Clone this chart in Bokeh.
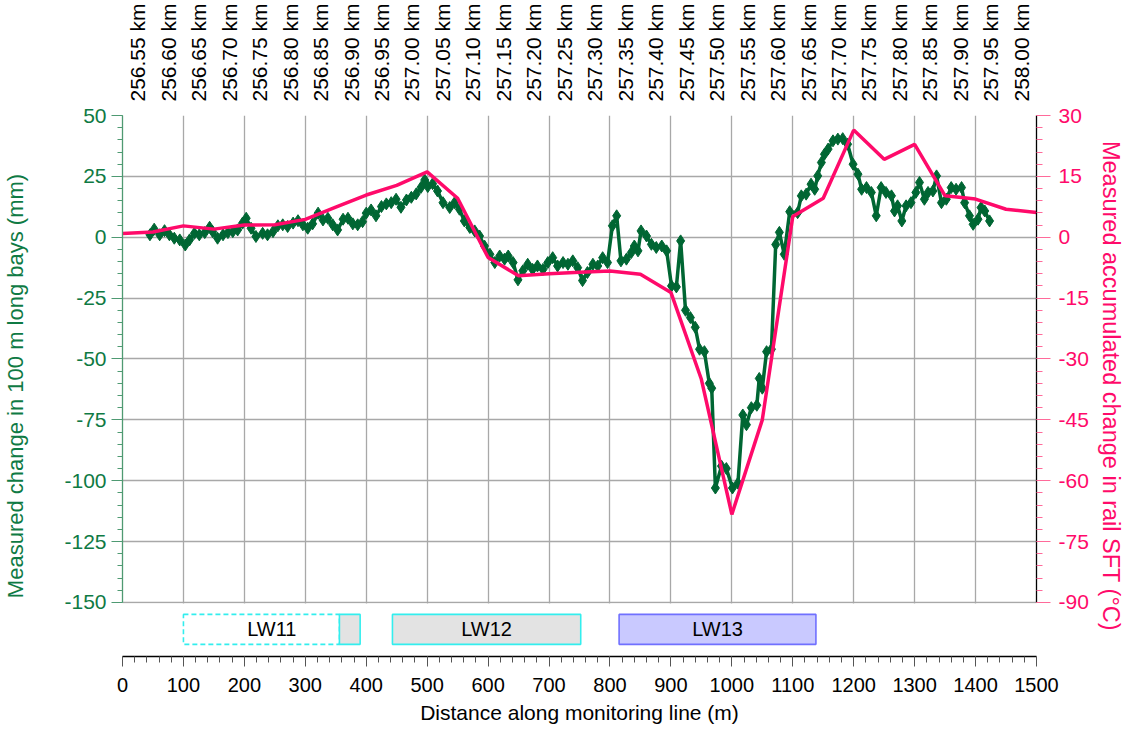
from bokeh.plotting import figure
from bokeh.models import Range1d, LinearAxis, SingleIntervalTicker, FixedTicker, NumeralTickFormatter
from bokeh.embed import file_html
from bokeh.resources import INLINE
from bokeh.core.properties import value

FONT = "Liberation Sans"
GREEN = "#006633"
GREEN_TXT = "#0f7a44"
GREEN_AX = "#4f9a72"
PINK = "#ff0a6a"
PINK_TICK = "#ff6a9a"
GRID = "#a8a8a8"

# ---------------- data ----------------
dist_bay = [45, 52, 61, 69, 77, 85, 94, 103, 110, 118, 126, 135, 143, 148, 156, 165, 173, 181, 189, 197,
            203, 211, 219, 230, 238, 247, 255, 263, 271, 280, 288, 296, 304, 312, 321, 329, 337, 345, 353, 362,
            370, 378, 386, 394, 400, 408, 416, 425, 433, 441, 449, 457, 466, 474, 482, 490, 496, 501, 509, 517,
            526, 537, 545, 553, 561, 570, 578, 586, 594, 603, 611, 619, 627, 633, 641, 649, 657, 665, 673, 681,
            690, 698, 706, 714, 723, 731, 739, 747, 755, 763, 772, 780, 788, 796, 804, 811, 818, 827, 835, 840,
            846, 851, 860, 868, 876, 885, 893, 901, 909, 916, 924, 932, 940, 947, 955, 963, 967, 973, 983, 991,
            1001, 1010, 1018, 1024, 1032, 1041, 1045, 1050, 1057, 1065, 1072, 1078, 1086, 1095, 1108, 1114, 1122, 1130, 1136, 1141,
            1147, 1152, 1158, 1166, 1174, 1182, 1190, 1199, 1207, 1213, 1221, 1229, 1237, 1245, 1253, 1262, 1267, 1272, 1279, 1286,
            1294, 1302, 1308, 1316, 1322, 1330, 1336, 1344, 1352, 1360, 1368, 1377, 1382, 1390, 1396, 1404, 1409, 1415, 1423]
bay_change = [1.0, 3.3, 1.0, 2.7, 1.0, -0.4, -1.1, -3.2, -1.1, 1.6, 1.0, 1.9, 4.1, 2.3, -0.4, 1.0, 1.9, 2.3, 3.0, 5.8,
              7.8, 3.7, 0.3, 1.6, 1.0, 2.3, 4.7, 5.1, 4.4, 5.8, 6.8, 5.1, 3.7, 5.5, 9.9, 7.1, 7.8, 5.1, 3.0, 7.4,
              7.8, 5.5, 5.1, 6.4, 9.9, 11.2, 8.8, 12.6, 13.7, 14.2, 15.6, 12.3, 15.3, 16.4, 17.8, 20.5, 23.5, 20.8, 22.0, 19.0,
              14.2, 12.2, 14.2, 11.5, 6.7, 4.0, 2.6, 0.5, -3.6, -7.0, -10.4, -7.7, -9.0, -7.7, -10.4, -17.5, -13.8, -11.1, -13.2, -11.8,
              -13.2, -10.4, -8.4, -11.8, -10.4, -11.1, -9.7, -12.5, -17.8, -14.5, -11.1, -11.8, -8.4, -10.4, 4.7, 8.8, -9.7, -9.0, -6.3, -3.6,
              -5.6, 2.6, 0.5, -2.9, -4.2, -3.6, -5.6, -20.0, -20.4, -1.5, -30.0, -33.0, -37.0, -46.0, -47.0, -60.0, -62.0, -103.0, -94.0, -95.0,
              -103.0, -101.0, -73.0, -77.0, -70.0, -69.0, -58.0, -62.0, -47.0, -46.0, -3.0, 2.0, -7.0, 10.5, 10.1, 17.0, 17.7, 21.8, 19.7, 25.2,
              30.7, 34.1, 36.2, 39.6, 40.3, 40.5, 38.2, 30.0, 25.9, 19.7, 20.4, 18.4, 8.8, 20.4, 18.4, 17.0, 10.8, 12.9, 6.7, 12.9,
              14.2, 18.4, 22.5, 15.6, 18.4, 19.0, 25.2, 14.2, 15.6, 20.4, 19.7, 20.4, 14.2, 8.8, 5.3, 7.4, 12.2, 10.8, 6.7]

dist_sft = [0, 50, 100, 150, 200, 250, 300, 350, 400, 450, 500, 550, 600, 650, 700, 750, 800, 850, 900, 950,
            1000, 1050, 1100, 1150, 1200, 1250, 1300, 1350, 1400, 1450, 1500]
sft_change = [0.9, 1.3, 2.8, 2.0, 3.0, 3.1, 4.4, 7.4, 10.4, 12.8, 16.1, 9.6, -5.0, -9.5, -9.0, -8.6, -8.3, -9.1, -13.6, -35.0,
              -68.3, -45.0, 5.1, 9.6, 26.4, 19.2, 22.9, 10.2, 9.4, 6.9, 6.1]

km_labels = ["256.55", "256.60", "256.65", "256.70", "256.75", "256.80", "256.85", "256.90", "256.95", "257.00",
             "257.05", "257.10", "257.15", "257.20", "257.25", "257.30", "257.35", "257.40", "257.45", "257.50",
             "257.55", "257.60", "257.65", "257.70", "257.75", "257.80", "257.85", "257.90", "257.95", "258.00"]
km_step_m = 50

lw_names = ["LW11", "LW12", "LW13"]
lw_start = [100, 443, 815]
lw_end = [390, 752, 1138]
lw11_dashed_end = 356

# ---------------- axis ranges ----------------
X_MIN, X_MAX = 0, 1500
MM_MIN, MM_MAX = -150, 50
SFT_MIN, SFT_MAX = -90, 30
STRIP_MM = 22.2                     # room below the chart for the longwall strip
ratio = (SFT_MAX - SFT_MIN) / (MM_MAX - MM_MIN)
y_lo = MM_MIN - STRIP_MM
sft_lo = SFT_MIN - STRIP_MM * ratio

p = figure(frame_width=914, frame_height=541, x_range=Range1d(X_MIN, X_MAX), y_range=Range1d(y_lo, MM_MAX),
           output_backend="svg", toolbar_location=None,
           x_axis_location="above", y_axis_location="left",
           min_border_left=115, min_border_right=98, min_border_top=108, min_border_bottom=76)
p.extra_y_ranges = {"sft": Range1d(sft_lo, SFT_MAX)}
p.background_fill_color = "white"
p.border_fill_color = "white"
p.outline_line_color = None

# top km axis
km_pos = [km_step_m / 2 + km_step_m * i for i in range(len(km_labels))]
top = p.xaxis[0]
top.ticker = FixedTicker(ticks=km_pos)
top.major_label_overrides = {pos: f"{lab} km" for pos, lab in zip(km_pos, km_labels)}
top.major_label_orientation = "vertical"
top.axis_line_color = None
top.major_tick_line_color = None
top.minor_tick_line_color = None
top.major_label_standoff = 8
top.major_label_text_font = FONT
top.major_label_text_font_size = "21px"
top.major_label_text_color = "black"

# grids
p.xgrid.ticker = SingleIntervalTicker(interval=100, num_minor_ticks=0)
p.xgrid.grid_line_color = GRID
p.xgrid.grid_line_width = 1.3
p.ygrid.grid_line_color = GRID
p.ygrid.grid_line_width = 1.3

# left axis
la = p.yaxis[0]
la.ticker = SingleIntervalTicker(interval=25, num_minor_ticks=5)
la.formatter = NumeralTickFormatter(format="0")
la.bounds = (MM_MIN, MM_MAX)
la.axis_label = "Measured change in 100 m long bays (mm)"
la.axis_label_text_font = FONT
la.axis_label_text_font_size = "22px"
la.axis_label_text_font_style = "normal"
la.axis_label_text_color = GREEN_TXT
la.axis_label_standoff = 33
la.major_label_text_font = FONT
la.major_label_text_font_size = "21px"
la.major_label_text_color = GREEN_TXT
la.major_label_standoff = 5
la.axis_line_color = GREEN_AX
la.axis_line_width = 1.3
la.major_tick_line_color = GREEN_AX
la.minor_tick_line_color = GREEN_AX
la.major_tick_in = 0
la.major_tick_out = 11
la.minor_tick_in = 0
la.minor_tick_out = 5

# right axis
ra = LinearAxis(y_range_name="sft", ticker=SingleIntervalTicker(interval=15, num_minor_ticks=5))
ra.formatter = NumeralTickFormatter(format="0")
ra.bounds = (SFT_MIN, SFT_MAX)
ra.axis_label = "Measured accumulated change in rail SFT (°C)"
ra.axis_label_text_font = FONT
ra.axis_label_text_font_size = "23.5px"
ra.axis_label_text_font_style = "normal"
ra.axis_label_text_color = PINK
ra.axis_label_standoff = 6
ra.major_label_text_font = FONT
ra.major_label_text_font_size = "21px"
ra.major_label_text_color = PINK
ra.major_label_standoff = 8
ra.axis_line_color = "black"
ra.axis_line_width = 1.3
ra.major_tick_line_color = PINK_TICK
ra.minor_tick_line_color = PINK_TICK
ra.major_tick_in = 0
ra.major_tick_out = 14
ra.minor_tick_in = 0
ra.minor_tick_out = 6
p.add_layout(ra, "right")

# bottom distance axis
bx = LinearAxis(ticker=SingleIntervalTicker(interval=100, num_minor_ticks=5))
bx.axis_label = "Distance along monitoring line (m)"
bx.axis_label_text_font = FONT
bx.axis_label_text_font_size = "21px"
bx.axis_label_text_font_style = "normal"
bx.axis_label_text_color = "black"
bx.axis_label_standoff = 6
bx.major_label_text_font = FONT
bx.major_label_text_font_size = "20px"
bx.major_label_text_color = "black"
bx.major_label_standoff = 11
bx.axis_line_color = "black"
bx.axis_line_width = 1.3
bx.major_tick_line_color = "#555555"
bx.minor_tick_line_color = "#555555"
bx.major_tick_in = 0
bx.major_tick_out = 10
bx.minor_tick_in = 0
bx.minor_tick_out = 6
p.add_layout(bx, "below")

# series
p.line(dist_bay, bay_change, line_color=GREEN, line_width=3.5)
p.scatter(dist_bay, bay_change, marker="diamond", size=12, fill_color=GREEN, line_color=GREEN)
p.line(dist_sft, sft_change, line_color=PINK, line_width=3.5, y_range_name="sft")

# blank strip below the chart area (hides grid there)
p.quad(left=[X_MIN], right=[X_MAX], bottom=[y_lo], top=[MM_MIN - 0.4], fill_color="white", line_color=None)

# longwall panels (strip units: mm below -150)
box_bot = MM_MIN - 17.2
box_top = MM_MIN - 4.9
p.quad(left=[lw_start[0]], right=[lw11_dashed_end], bottom=box_bot, top=box_top,
       fill_color="white", line_color="#33eeee", line_width=1.6, line_dash="5 3")
p.quad(left=[lw11_dashed_end], right=[lw_end[0]], bottom=box_bot, top=box_top,
       fill_color="#e3e3e3", line_color="#33eeee", line_width=1.6)
p.quad(left=[lw_start[1]], right=[lw_end[1]], bottom=box_bot, top=box_top,
       fill_color="#e3e3e3", line_color="#33eeee", line_width=1.6)
p.quad(left=[lw_start[2]], right=[lw_end[2]], bottom=box_bot, top=box_top,
       fill_color="#c9c9ff", line_color="#7070ff", line_width=1.6)
lw_mid = [(a + b) / 2 for a, b in zip(lw_start, lw_end)]
p.text(x=lw_mid, y=[(box_bot + box_top) / 2] * len(lw_mid), text=lw_names,
       text_align="center", text_baseline="middle",
       text_font=value(FONT), text_font_size="20px", text_color="black")

open("out.html", "w").write(file_html(p, INLINE))
